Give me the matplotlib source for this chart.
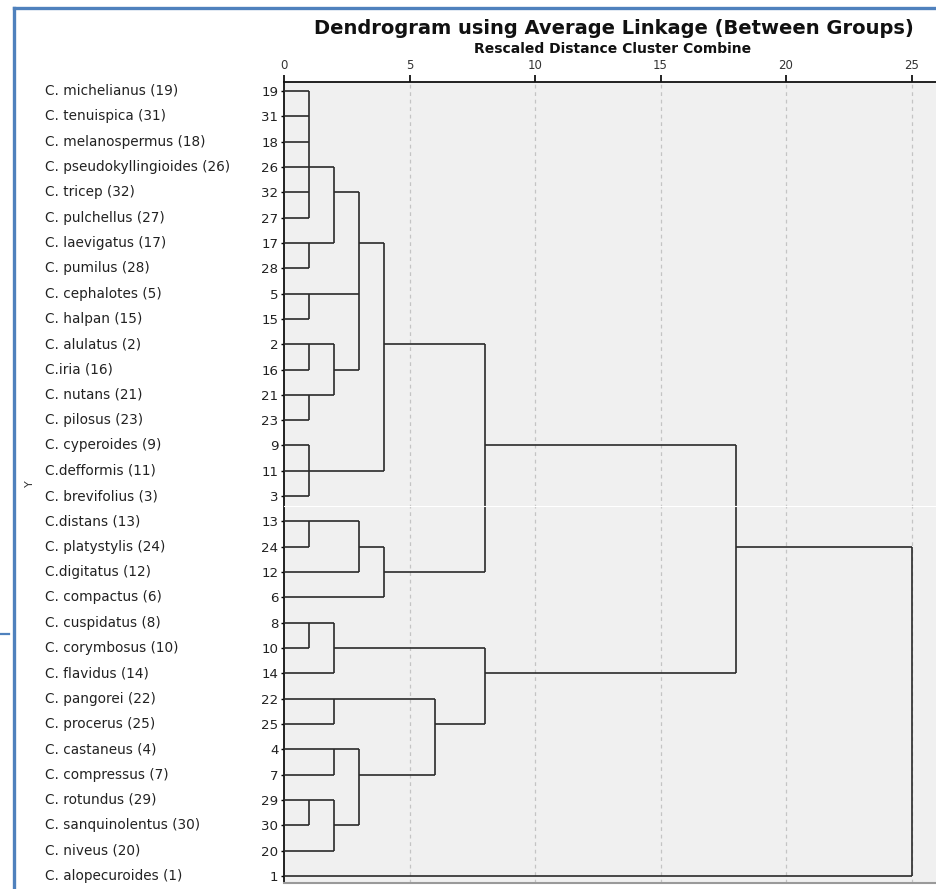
import matplotlib
matplotlib.use("Agg")
import matplotlib.pyplot as plt
from matplotlib.lines import Line2D
from matplotlib.transforms import blended_transform_factory

plt.rcParams['font.family'] = ['DejaVu Sans']

# species in dendrogram order (top to bottom) and their case numbers
species = ["C. michelianus (19)", "C. tenuispica (31)", "C. melanospermus (18)",
           "C. pseudokyllingioides (26)", "C. tricep (32)", "C. pulchellus (27)",
           "C. laevigatus (17)", "C. pumilus (28)", "C. cephalotes (5)", "C. halpan (15)",
           "C. alulatus (2)", "C.iria (16)", "C. nutans (21)", "C. pilosus (23)",
           "C. cyperoides (9)", "C.defformis (11)", "C. brevifolius (3)", "C.distans (13)",
           "C. platystylis (24)", "C.digitatus (12)", "C. compactus (6)",
           "C. cuspidatus (8)", "C. corymbosus (10)", "C. flavidus (14)",
           "C. pangorei (22)", "C. procerus (25)", "C. castaneus (4)",
           "C. compressus (7)", "C. rotundus (29)", "C. sanquinolentus (30)",
           "C. niveus (20)", "C. alopecuroides (1)"]
case_ids = [19, 31, 18, 26, 32, 27, 17, 28, 5, 15, 2, 16, 21, 23, 9, 11, 3,
            13, 24, 12, 6, 8, 10, 14, 22, 25, 4, 7, 29, 30, 20, 1]

# agglomeration steps: cluster name, rescaled distance, members,
# and the case whose row carries the link onward
node_names = ["a1", "a2", "a", "c", "d1", "d2", "d", "acd", "e", "ae",
              "f1", "f2", "f", "upper", "g1", "g", "h", "i", "j1", "j",
              "ij", "hij", "lower", "main", "root"]
node_heights = [1, 1, 2, 1, 1, 1, 2, 3, 1, 4,
                1, 3, 4, 8, 1, 2, 2, 2, 1, 2,
                3, 6, 8, 18, 25]
node_children = [[19, 31, 18, 26, 32, 27], [17, 28], ["a1", "a2"], [5, 15],
                 [2, 16], [21, 23], ["d1", "d2"], ["a", "c", "d"], [9, 11, 3],
                 ["acd", "e"], [13, 24], ["f1", 12], ["f2", 6], ["ae", "f"],
                 [8, 10], ["g1", 14], [22, 25], [4, 7], [29, 30], ["j1", 20],
                 ["i", "j"], ["h", "ij"], ["g", "hij"], ["upper", "lower"],
                 ["main", 1]]
node_exit = [26, 17, 32, 5, 2, 21, 16, 17, 11, 2,
             13, 24, 12, 9, 8, 10, 22, 4, 29, 30,
             7, 25, 14, 24, 24]

fig = plt.figure(figsize=(9.36, 8.89), dpi=100)
ax = fig.add_axes([284 / 936, 6 / 889, 652 / 936, 801 / 889])
ax.set_facecolor('#f0f0f0')
ax.set_xlim(0, 652 / 25.1)
ax.set_ylim(31.28, -0.355)

line_kw = dict(color='#2b2b2b', lw=1.2, solid_capstyle='butt', zorder=3)

# row and height of every leaf / cluster
pos = {cid: (row, 0) for row, cid in enumerate(case_ids)}
for name, h, kids, ex in zip(node_names, node_heights, node_children, node_exit):
    rows = [pos[k][0] for k in kids]
    for k in kids:
        r, x0 = pos[k]
        ax.plot([x0, h], [r, r], **line_kw)
    ax.plot([h, h], [min(rows), max(rows)], **line_kw)
    pos[name] = (pos[ex][0], h)

# dashed reference lines
for xv in [5, 10, 15, 20, 25]:
    ax.axvline(xv, color='#c4c4c4', ls=(0, (3, 3)), lw=0.9, zorder=1)
ax.axhline(16.39, color='white', lw=0.8, zorder=4)

ax.xaxis.tick_top()
ax.set_xticks([0, 5, 10, 15, 20, 25])
ax.tick_params(axis='x', direction='out', length=5, width=1.2, pad=2,
               labelsize=8.5, labelcolor='#333333')
ax.set_yticks(range(len(case_ids)))
ax.set_yticklabels([str(c) for c in case_ids])
ax.tick_params(axis='y', direction='out', length=2, width=1, pad=2,
               labelsize=9.6, labelcolor='#222222')

for side in ['top', 'left']:
    ax.spines[side].set_color('#111111')
    ax.spines[side].set_linewidth(1.3)
ax.spines['bottom'].set_color('#9a9a9a')
ax.spines['bottom'].set_linewidth(1.5)
ax.spines['right'].set_visible(False)

# species names on the far left
trans = blended_transform_factory(fig.transFigure, ax.transData)
for row, name in enumerate(species):
    ax.text(45 / 936, row, name, transform=trans, ha='left', va='center',
            fontsize=9.8, color='#222222', clip_on=False)

fig.text(30 / 936, 1 - 484 / 889, 'Y', rotation=90, ha='center', va='center',
         fontsize=8, color='#333333')

fig.text(614 / 936, 1 - 28 / 889, 'Dendrogram using Average Linkage (Between Groups)',
         ha='center', va='center', fontsize=14, fontweight='bold', color='#111111')
fig.text(613 / 936, 1 - 49 / 889, 'Rescaled Distance Cluster Combine',
         ha='center', va='center', fontsize=10, fontweight='bold', color='#111111')

# blue frame around the figure
blue = '#4f81bd'
fig.add_artist(Line2D([14 / 936, 14 / 936], [0, 1 - 8 / 889], color=blue, lw=2.4,
                      transform=fig.transFigure))
fig.add_artist(Line2D([14 / 936, 1], [1 - 8 / 889, 1 - 8 / 889], color=blue, lw=2.4,
                      transform=fig.transFigure))
fig.add_artist(Line2D([0, 9 / 936], [1 - 634 / 889, 1 - 634 / 889], color=blue, lw=1.6,
                      transform=fig.transFigure))

fig.savefig('out.png', dpi=100)
